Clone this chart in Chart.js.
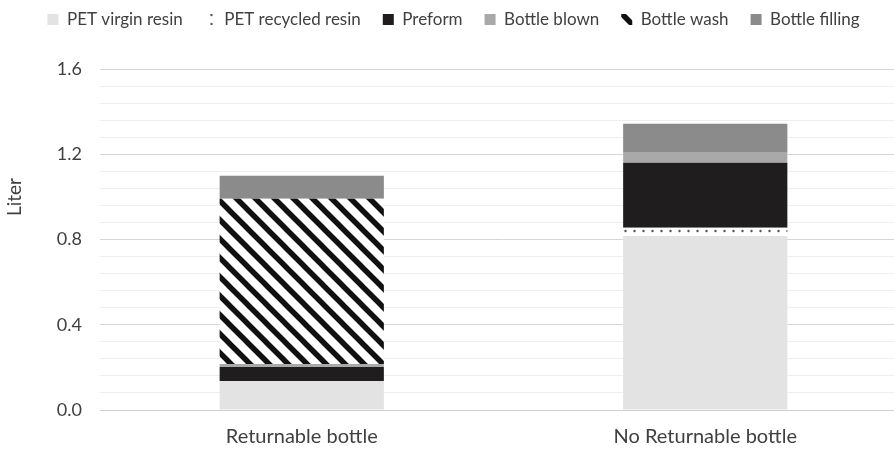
<!DOCTYPE html>
<html>
<head>
<meta charset="utf-8">
<script src="https://cdn.jsdelivr.net/npm/chart.js@4"></script>
<style>
  html, body { margin: 0; padding: 0; background: #fff; overflow: hidden; }
  #wrap { width: 907px; height: 450px; }
</style>
</head>
<body>
<div id="wrap"><canvas id="chart" width="907" height="450"></canvas></div>
<script>
const categories = ["Returnable bottle", "No Returnable bottle"];
const seriesNames = ["PET virgin resin", "PET recycled resin", "Preform", "Bottle blown", "Bottle wash", "Bottle filling"];
const virginResin = [0.136, 0.817];
const recycledResin = [0, 0.038];
const preform = [0.066, 0.305];
const bottleBlown = [0.014, 0.047];
const bottleWash = [0.775, 0];
const bottleFilling = [0.108, 0.136];
const yMax = 1.6;
const yStep = 0.08;
const yLabelStep = 0.4;
const yTitle = "Liter";

/* === PATTERNS === */
function hatchPattern() {
  const c = document.createElement("canvas");
  c.width = 19; c.height = 19;
  const g = c.getContext("2d");
  g.fillStyle = "#fff";
  g.fillRect(0, 0, 19, 19);
  g.strokeStyle = "#111";
  g.lineWidth = 5.5;
  g.beginPath();
  g.moveTo(-5, -5); g.lineTo(24, 24);
  g.moveTo(-24, -5); g.lineTo(5, 24);
  g.moveTo(14, -5); g.lineTo(43, 24);
  g.stroke();
  return g.createPattern(c, "repeat");
}

function dotPattern() {
  const c = document.createElement("canvas");
  c.width = 9; c.height = 9;
  const g = c.getContext("2d");
  g.fillStyle = "#fff";
  g.fillRect(0, 0, 9, 9);
  g.fillStyle = "#555";
  g.beginPath();
  g.arc(4.5, 6, 1.2, 0, Math.PI * 2);
  g.fill();
  return g.createPattern(c, "repeat");
}

const fills = ["#e3e3e3", dotPattern(), "#1f1d1e", "#a9a9a9", hatchPattern(), "#8b8b8b"];
const values = [virginResin, recycledResin, preform, bottleBlown, bottleWash, bottleFilling];

const isMajor = (v) => Math.abs(v / yLabelStep - Math.round(v / yLabelStep)) < 1e-6;

const FONT = "Lato, 'Liberation Sans', sans-serif";
const TEXT = "#404040";

// extra room under the legend
const legendGap = {
  id: "legendGap",
  beforeInit(chart) {
    const fit = chart.legend.fit;
    chart.legend.fit = function () {
      fit.bind(chart.legend)();
      this.height += 31;
    };
  },
};

// y title drawn where the original puts it
const sideTitle = {
  id: "sideTitle",
  afterDraw(chart) {
    const ctx = chart.ctx;
    ctx.save();
    ctx.translate(15, 197);
    ctx.rotate(-Math.PI / 2);
    ctx.font = "19px " + FONT;
    ctx.fillStyle = TEXT;
    ctx.textAlign = "center";
    ctx.textBaseline = "middle";
    ctx.fillText(yTitle, 0, 0);
    ctx.restore();
  },
};

new Chart(document.getElementById("chart"), {
  type: "bar",
  data: {
    labels: categories,
    datasets: seriesNames.map((name, i) => ({
      label: name,
      data: values[i],
      backgroundColor: fills[i],
      borderWidth: 0,
      categoryPercentage: 1,
      barPercentage: 0.407,
    })),
  },
  options: {
    responsive: false,
    animation: false,
    layout: { padding: { top: -11, left: 0, right: 0, bottom: 0 } },
    plugins: {
      legend: {
        position: "top",
        labels: {
          font: { family: FONT, size: 17 },
          color: TEXT,
          boxWidth: 11,
          boxHeight: 11,
          padding: 22,
        },
      },
      tooltip: { enabled: false },
    },
    scales: {
      x: {
        stacked: true,
        grid: { display: false, drawTicks: false },
        border: { display: true, color: "#d0d0d0" },
        ticks: { font: { family: FONT, size: 20 }, color: TEXT, padding: 15 },
        afterFit: (scale) => { scale.height = 40; },
      },
      y: {
        stacked: true,
        min: 0,
        max: yMax,
        border: { display: false },
        title: { display: false, text: yTitle },
        grid: {
          drawTicks: false,
          color: (ctx) => (ctx.tick && isMajor(ctx.tick.value) ? "#d6d6d6" : "#eeeeee"),
        },
        ticks: {
          stepSize: yStep,
          autoSkip: false,
          padding: 18,
          font: { family: FONT, size: 18 },
          color: TEXT,
          callback: (v) => (isMajor(v) ? Number(v).toFixed(1) : ""),
        },
        afterFit: (scale) => { scale.width = 100; },
      },
    },
  },
  plugins: [legendGap, sideTitle],
});
</script>
</body>
</html>
